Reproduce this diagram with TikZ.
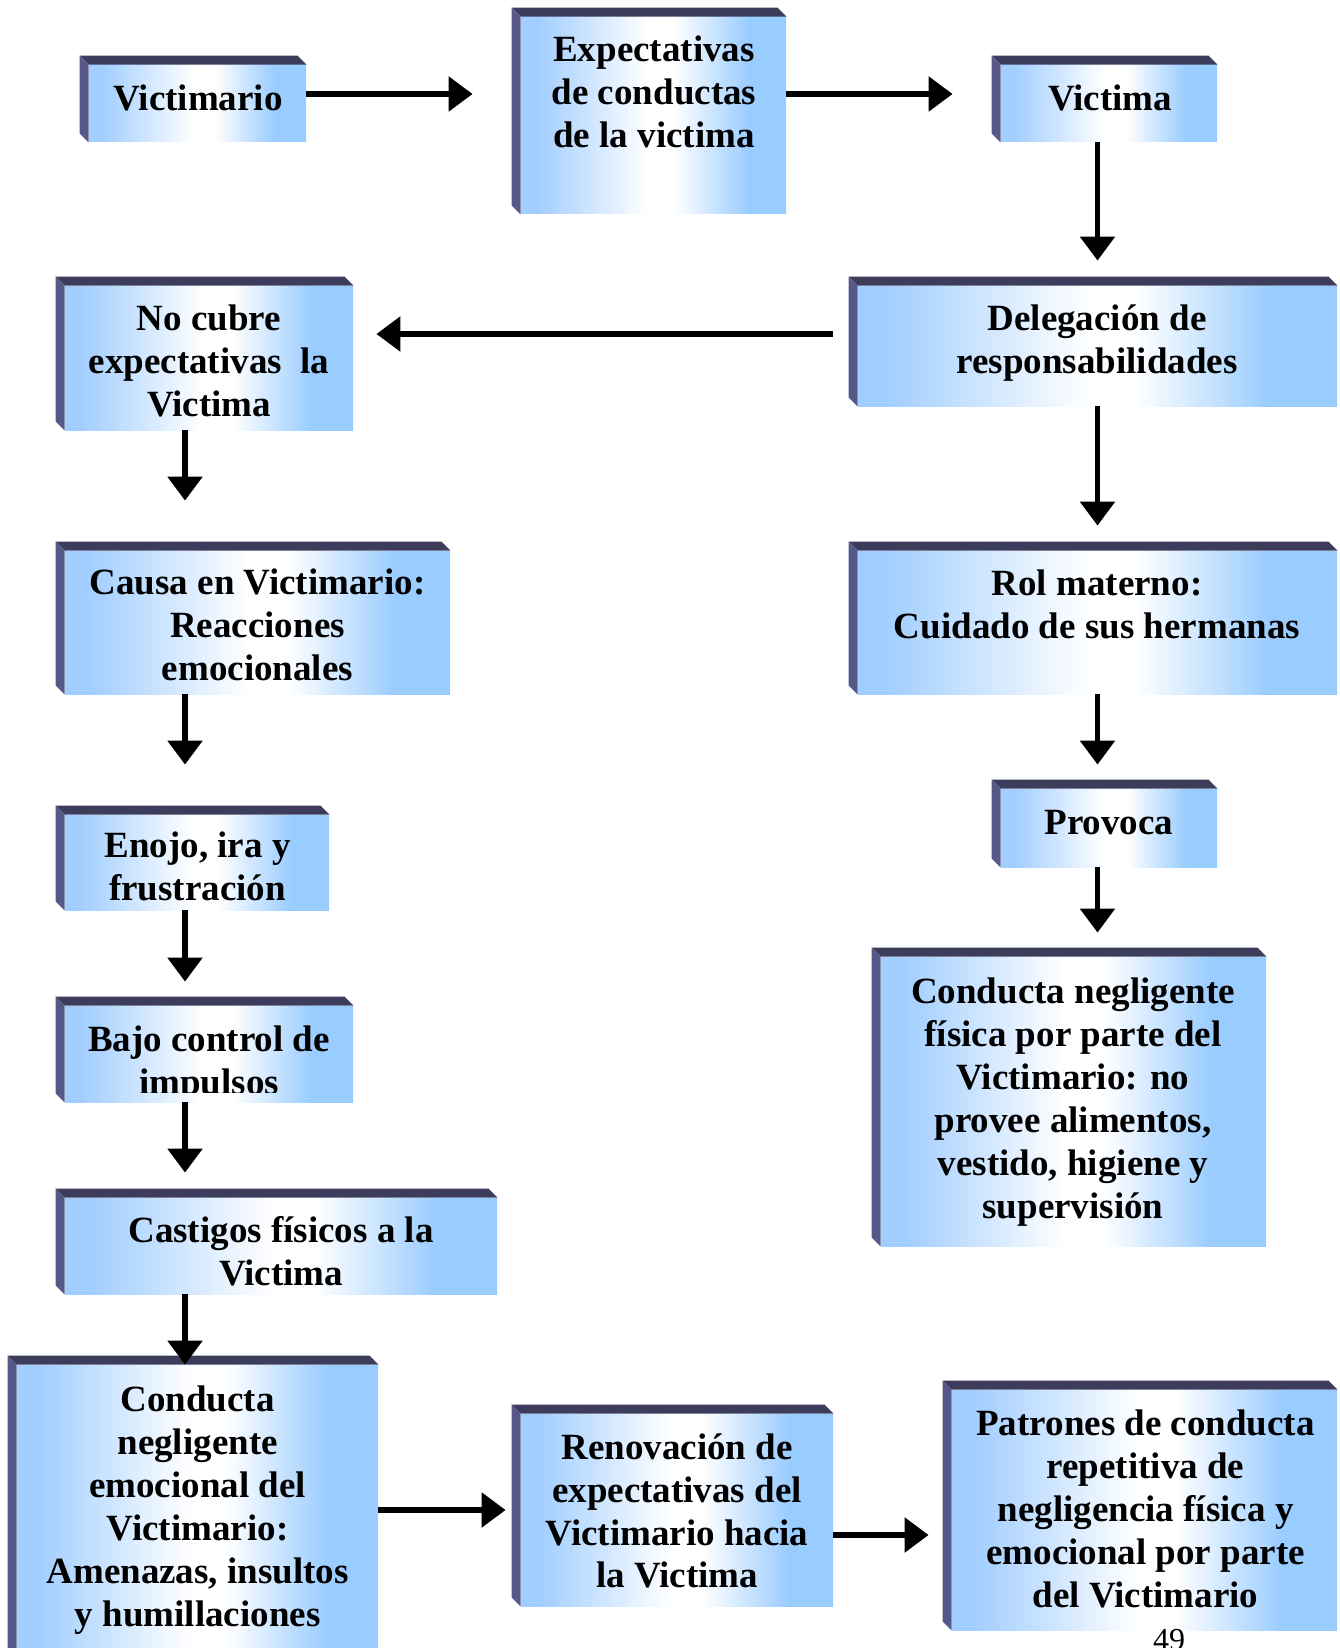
\documentclass[tikz,border=0pt]{standalone}
\usepackage{fontspec}
\setmainfont{Liberation Serif}
\usetikzlibrary{arrows.meta,calc,fit}
\definecolor{bla}{RGB}{162,206,255}
\definecolor{blb}{RGB}{153,204,255}
\definecolor{topbevc}{RGB}{60,60,92}
\definecolor{leftbevc}{RGB}{88,88,136}
\pgfdeclarehorizontalshading{bxshade}{100bp}{color(0bp)=(bla); color(25bp)=(bla); color(28bp)=(bla); color(49bp)=(white); color(54bp)=(white); color(68bp)=(blb); color(100bp)=(blb)}
\newcommand\bevbox[3]{%
  \node[bx, fit={#2 #3}] (#1) {};
  \fill[topbev] (#1.north west) -- ++(-9,-9) -- ($(#1.north east)+(-9,-9)$) -- (#1.north east) -- cycle;
  \fill[leftbev] (#1.north west) -- ++(-9,-9) -- ($(#1.south west)+(-9,-9)$) -- (#1.south west) -- cycle;}
\begin{document}
\begin{tikzpicture}[x=0.5pt,y=-0.5pt,
  bx/.style={rectangle, inner sep=0pt, draw=none, shade, shading=bxshade},
  lbl/.style={align=center, font=\bfseries\fontsize{18.5}{21.45}\selectfont, inner sep=0pt},
  topbev/.style={fill=topbevc},
  leftbev/.style={fill=leftbevc},
  arr/.style={line width=2.75pt, -{Triangle[length=12pt,width=17pt]}}]
\useasboundingbox (0,0) rectangle (1339,1648);
\clip (0,0) rectangle (1339,1648);

% boxes
\bevbox{vic}{(89,65)}{(306,142)}
\bevbox{exp}{(521,17)}{(786,214)}
\bevbox{vma}{(1001,65)}{(1217,142)}
\bevbox{del}{(858,286)}{(1337,406)}
\bevbox{noc}{(65,286)}{(353,430)}
\bevbox{cau}{(65,551)}{(450,694)}
\bevbox{rol}{(858,551)}{(1337,694)}
\bevbox{pro}{(1001,789)}{(1217,867)}
\bevbox{eno}{(65,815)}{(329,910)}
\bevbox{fis}{(881,957)}{(1266,1246)}
\bevbox{baj}{(65,1006)}{(353,1102)}
\bevbox{cas}{(65,1198)}{(497,1294)}
\bevbox{emo}{(17,1365)}{(378,1665)}
\bevbox{ren}{(521,1414)}{(833,1606)}
\bevbox{pat}{(952,1390)}{(1337,1630)}

% texts
\node[lbl] (vic-t) at (198,98) {Victimario};
\node[lbl] (exp-t) at (654,91.5) {Expectativas\\de conductas\\de la victima};
\node[lbl] (vma-t) at (1110,98) {Victima};
\node[lbl] (del-t) at (1097,343) {Delegación de\\responsabilidades};
\node[lbl] (noc-t) at (209,361) {No cubre\\expectativas~~la\\Victima};
\node[lbl] (cau-t) at (257.5,625) {Causa en Victimario:\\Reacciones\\emocionales};
\node[lbl] (rol-t) at (1097,604) {Rol materno:\\Cuidado de sus hermanas};
\node[lbl] (pro-t) at (1109,823) {Provoca};
\node[lbl] (eno-t) at (197.6,866.5) {Enojo, ira y\\frustración};
\node[lbl] (fis-t) at (1073,1102) {Conducta negligente\\física por parte del\\Victimario: no\\provee alimentos,\\vestido, higiene y\\supervisión};
\begin{scope}
\clip (baj.north west) rectangle ($(baj.south east)+(0,-10)$);
\node[lbl] (baj-t) at (209,1064) {Bajo control de\\impulsos};
\end{scope}
\node[lbl] (cas-t) at (281,1251.5) {Castigos físicos a la\\Victima};
\node[lbl] (emo-t) at (197.6,1510) {Conducta\\negligente\\emocional del\\Victimario:\\Amenazas, insultos\\y humillaciones};
\node[lbl] (ren-t) at (677,1511) {Renovación de\\expectativas del\\Victimario hacia\\la Victima};
\node[lbl] (pat-t) at (1145.6,1509) {Patrones de conducta\\repetitiva de\\negligencia física y\\emocional por parte\\del Victimario};
\node[anchor=base, inner sep=0pt, font=\fontsize{16}{16}\selectfont] (pg) at (1169,1650) {49};

% arrows
\draw[arr, shorten >=24pt] (vic.east |- 0,94) -- (exp.west |- 0,94);
\draw[arr, shorten >=24pt] (exp.east |- 0,94) -- (vma.west |- 0,94);
\draw[arr, shorten >=12.5pt] (vma.south -| del.north) -- (del.north);
\draw[arr, shorten <=12.5pt, shorten >=11.5pt] (del.west |- 0,334) -- (noc.east |- 0,334);
\draw[arr, shorten >=12.5pt] (del.south) -- (rol.north);
\draw[arr, shorten >=25pt] (noc.south -| 185,0) -- (cau.north -| 185,0);
\draw[arr, shorten >=25pt] (cau.south -| 185,0) -- (eno.north -| 185,0);
\draw[arr, shorten >=12pt] (rol.south) -- (rol.south |- pro.north);
\draw[arr, shorten >=12pt] (pro.south -| rol.south) -- (fis.north -| rol.south);
\draw[arr, shorten >=12pt] (eno.south -| 185,0) -- (baj.north -| 185,0);
\draw[arr, shorten >=12.5pt] (baj.south -| 185,0) -- (cas.north -| 185,0);
\draw[arr] (cas.south -| 185,0) -- (emo.north -| 185,0);
\draw[arr, shorten >=7.5pt] (emo.east |- 0,1510) -- (ren.west |- 0,1510);
\draw[arr, shorten >=11.5pt] (ren.east |- 0,1535) -- (pat.west |- 0,1535);
\end{tikzpicture}
\end{document}
